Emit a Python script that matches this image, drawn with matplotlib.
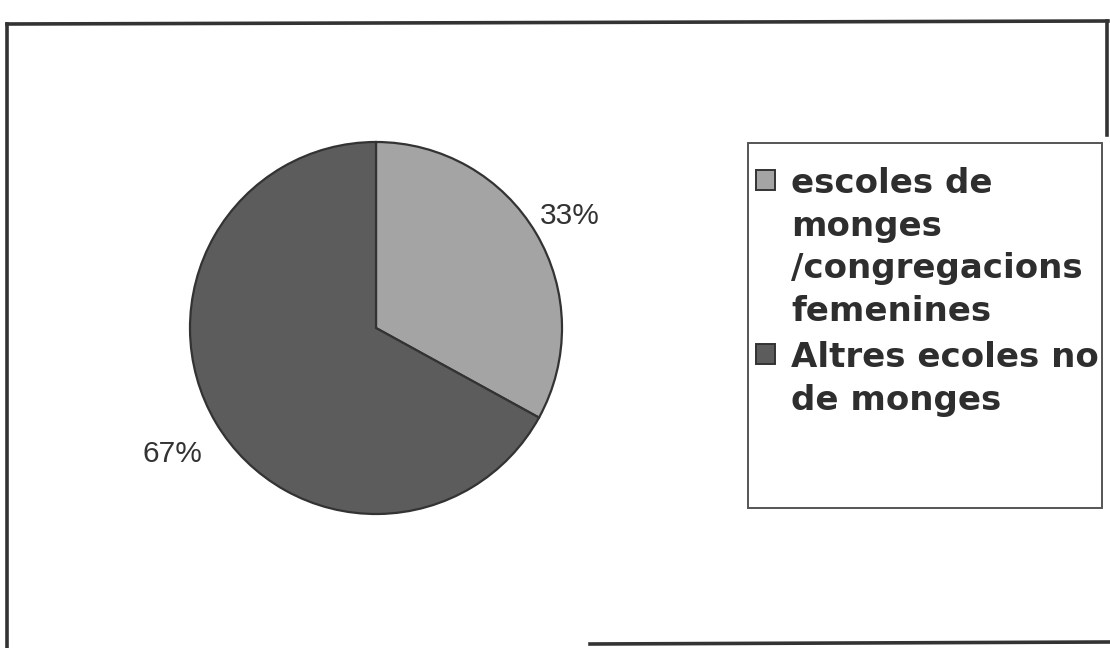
import matplotlib
matplotlib.use("Agg")
import matplotlib.pyplot as plt
from matplotlib.lines import Line2D
from matplotlib.patches import Rectangle
import numpy as np

# Share of schools by type
categories = ["escoles de\nmonges\n/congregacions\nfemenines",
              "Altres ecoles no\nde monges"]
shares = [33, 67]
colors = ["#a4a4a4", "#5c5c5c"]

W, H = 1110, 648
fig = plt.figure(figsize=(W / 100, H / 100), dpi=100)
fig.patch.set_facecolor("white")


def fx(px):
    return px / W


def fy(py):
    return 1 - py / H


# Pie axes: centre (376, 328) px, radius 186 px
cx, cy, r = 376, 328, 186
ax = fig.add_axes([fx(cx - r), fy(cy + r), 2 * r / W, 2 * r / H])
wedges, texts, autotexts = ax.pie(
    shares, colors=colors, startangle=90, counterclock=False,
    autopct="%1.0f%%", pctdistance=1.2, radius=1,
    wedgeprops=dict(edgecolor="#333333", linewidth=1.6),
    textprops=dict(fontsize=21.5, color="#333333", family="Liberation Sans"))
ax.set_xlim(-1, 1)
ax.set_ylim(-1, 1)
ax.axis("off")

# Push each percentage label outward along its wedge bisector
label_dist = [1.20, 1.29]
label_turn = [-0.6, 1.2]
for w, t, d, a in zip(wedges, autotexts, label_dist, label_turn):
    mid = np.deg2rad((w.theta1 + w.theta2) / 2 + a)
    t.set_position((d * np.cos(mid), d * np.sin(mid)))
    t.set_ha("center")
    t.set_va("center")

# Legend box
lx0, ly0, lx1, ly1 = 748, 143, 1102, 508
fig.add_artist(Rectangle((fx(lx0), fy(ly1)), fx(lx1 - lx0), (ly1 - ly0) / H,
                         transform=fig.transFigure, facecolor="white",
                         edgecolor="#555555", linewidth=1.4))
entry_tops = [167, 341]
for top, label, c in zip(entry_tops, categories, colors):
    fig.add_artist(Rectangle((fx(756), fy(top + 23)), fx(19), 20 / H,
                             transform=fig.transFigure, facecolor=c,
                             edgecolor="#333333", linewidth=1.4))
    fig.text(fx(791), fy(top), label, ha="left", va="top",
             fontsize=24.5, fontweight="bold", color="#2e2e2e",
             family="DejaVu Sans", linespacing=1.37,
             multialignment="left")

# Outer frame
frame_kw = dict(color="#333333", linewidth=2.6, transform=fig.transFigure)
fig.add_artist(Line2D([fx(7), fx(1108)], [fy(24), fy(21)], **frame_kw))
fig.add_artist(Line2D([fx(7), fx(7)], [fy(24), fy(648)], **frame_kw))
fig.add_artist(Line2D([fx(590), fx(1110)], [fy(644), fy(642)], **frame_kw))
fig.add_artist(Line2D([fx(1107), fx(1107)], [fy(21), fy(135)], **frame_kw))

fig.savefig("out.png", dpi=100, facecolor="white")
